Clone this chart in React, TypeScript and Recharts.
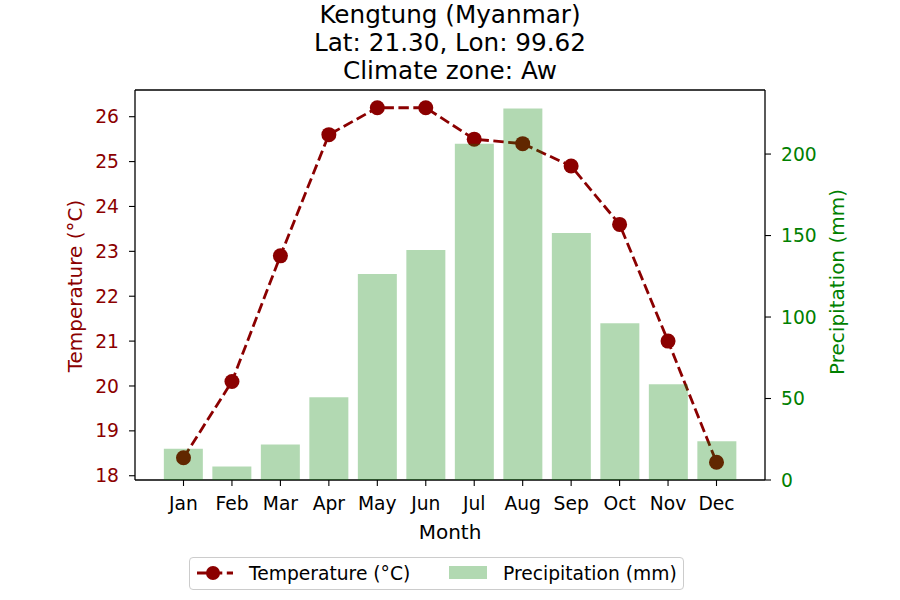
import React from "react";
import { ComposedChart, BarChart, Bar, Line, XAxis, YAxis } from "recharts";

const MONTHS = ["Jan", "Feb", "Mar", "Apr", "May", "Jun", "Jul", "Aug", "Sep", "Oct", "Nov", "Dec"];
const TEMPERATURE = [18.4, 20.1, 22.9, 25.6, 26.2, 26.2, 25.5, 25.4, 24.9, 23.6, 21.0, 18.3];
const PRECIPITATION = [19.2, 8.3, 21.8, 50.7, 126.4, 141.1, 206.3, 227.9, 151.6, 96.2, 58.7, 23.7];
const TEMP_TICKS = [18, 19, 20, 21, 22, 23, 24, 25, 26];
const PRECIP_TICKS = [0, 50, 100, 150, 200];

const TEMP_COLOR = "#8b0000";
const PRECIP_COLOR = "#008000";
const FONT = "'DejaVu Sans', sans-serif";
const FS = 18.7;
const LABEL_FS = 20;

const TEMP_DOMAIN = [17.905, 26.595];
const PRECIP_DOMAIN = [0, 239.3];
// band axis for the bars, point axis for the line: both put Jan ~48px inside the frame
const BAR_X_PADDING = { left: 24, right: 24 };
const LINE_X_PADDING = { left: 48.5, right: 48.5 };

const data = MONTHS.map((month, i) => ({
  month,
  temp: TEMPERATURE[i],
  precip: PRECIPITATION[i],
}));

function LegendBox() {
  return (
    <div
      style={{
        position: "absolute",
        left: 189,
        top: 557,
        width: 493,
        height: 31,
        border: "1px solid #cccccc",
        borderRadius: 4,
        background: "#fff",
        fontSize: FS,
        lineHeight: "20px",
        fontFamily: FONT,
      }}
    >
      <svg width={40} height={20} style={{ position: "absolute", left: 6, top: 5 }}>
        <line x1={1} y1={10} x2={37} y2={10} stroke={TEMP_COLOR} strokeWidth={2.8} strokeDasharray="10.4 4.5" />
        <circle cx={17} cy={10} r={7} fill={TEMP_COLOR} />
      </svg>
      <span style={{ position: "absolute", left: 59, top: 6, whiteSpace: "nowrap" }}>Temperature (°C)</span>
      <div
        style={{
          position: "absolute",
          left: 259,
          top: 8,
          width: 38,
          height: 13,
          background: PRECIP_COLOR,
          opacity: 0.3,
        }}
      />
      <span style={{ position: "absolute", left: 313, top: 6, whiteSpace: "nowrap" }}>Precipitation (mm)</span>
    </div>
  );
}

export default function App() {
  const tickStyle = { fontSize: FS, fontFamily: FONT };
  const axisLine = { stroke: "#000", strokeWidth: 1.3 };
  const tickLine = { stroke: "#000", strokeWidth: 1.1 };
  return (
    <div style={{ position: "absolute", left: 0, top: 0, width: 900, height: 600, background: "#fff", fontFamily: FONT }}>
      <div style={{ position: "absolute", left: 0, top: 1, width: 900, textAlign: "center", fontSize: 24.7, lineHeight: "28px" }}>
        <div>Kengtung (Myanmar)</div>
        <div>Lat: 21.30, Lon: 99.62</div>
        <div>Climate zone: Aw</div>
      </div>

      {/* axes + temperature line (bottom layer) */}
      <div style={{ position: "absolute", left: 0, top: 0 }}>
        <ComposedChart width={900} height={600} data={data} margin={{ top: 89, right: 75, bottom: 90, left: 75 }}>
          <XAxis
            dataKey="month"
            padding={LINE_X_PADDING}
            tick={{ ...tickStyle, fill: "#000" }}
            tickLine={tickLine}
            axisLine={axisLine}
            tickSize={6}
            tickMargin={11}
            height={30}
            interval={0}
          />
          <XAxis xAxisId="top" dataKey="month" orientation="top" tick={false} tickLine={false} axisLine={axisLine} height={1} />
          <YAxis
            yAxisId="left"
            domain={TEMP_DOMAIN}
            ticks={TEMP_TICKS}
            allowDataOverflow
            tick={{ ...tickStyle, fill: TEMP_COLOR }}
            tickLine={tickLine}
            axisLine={axisLine}
            tickSize={6}
            tickMargin={10}
            width={60}
          />
          <YAxis
            yAxisId="right"
            orientation="right"
            domain={PRECIP_DOMAIN}
            ticks={PRECIP_TICKS}
            allowDataOverflow
            tick={{ ...tickStyle, fill: PRECIP_COLOR }}
            tickLine={tickLine}
            axisLine={axisLine}
            tickSize={6}
            tickMargin={10}
            width={60}
          />
          <Line
            yAxisId="left"
            dataKey="temp"
            type="linear"
            stroke={TEMP_COLOR}
            strokeWidth={2.8}
            strokeDasharray="10.4 4.5"
            dot={{ r: 7.5, fill: TEMP_COLOR, stroke: TEMP_COLOR, strokeWidth: 0 }}
            activeDot={false}
            isAnimationActive={false}
          />
        </ComposedChart>
      </div>

      {/* precipitation bars drawn over the line, like the original */}
      <div style={{ position: "absolute", left: 0, top: 0, pointerEvents: "none" }}>
        <BarChart width={900} height={600} data={data} margin={{ top: 90, right: 135, bottom: 120, left: 135 }} barCategoryGap="10%">
          <XAxis dataKey="month" padding={BAR_X_PADDING} hide />
          <YAxis yAxisId="right" domain={PRECIP_DOMAIN} allowDataOverflow hide />
          <Bar dataKey="precip" yAxisId="right" fill={PRECIP_COLOR} fillOpacity={0.3} isAnimationActive={false} />
        </BarChart>
      </div>

      <div
        style={{
          position: "absolute",
          left: 75,
          top: 286,
          transform: "translate(-50%, -50%) rotate(-90deg)",
          color: TEMP_COLOR,
          fontSize: LABEL_FS,
          whiteSpace: "nowrap",
        }}
      >
        Temperature (°C)
      </div>
      <div
        style={{
          position: "absolute",
          left: 837,
          top: 282,
          transform: "translate(-50%, -50%) rotate(-90deg)",
          color: PRECIP_COLOR,
          fontSize: LABEL_FS,
          whiteSpace: "nowrap",
        }}
      >
        Precipitation (mm)
      </div>
      <div
        style={{
          position: "absolute",
          left: 450,
          top: 532,
          transform: "translate(-50%, -50%)",
          fontSize: LABEL_FS,
          whiteSpace: "nowrap",
        }}
      >
        Month
      </div>
      <LegendBox />
    </div>
  );
}
